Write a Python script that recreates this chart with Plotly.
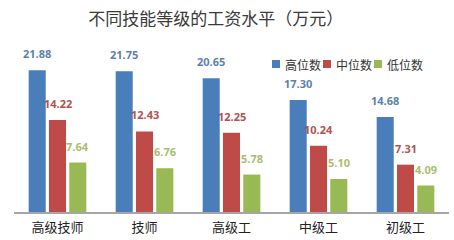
import plotly.graph_objects as go

categories = ["高级技师", "技师", "高级工", "中级工", "初级工"]
series_names = ["高位数", "中位数", "低位数"]
high = [21.88, 21.75, 20.65, 17.30, 14.68]
mid = [14.22, 12.43, 12.25, 10.24, 7.31]
low = [7.64, 6.76, 5.78, 5.10, 4.09]

bar_colors = ["#4A7EBB", "#BE4B48", "#98B954"]
label_colors = ["#5B82AE", "#B5524F", "#A7BE6E"]
series = [high, mid, low]

fig = go.Figure()
for name, vals, c in zip(series_names, series, bar_colors):
    fig.add_trace(go.Bar(x=categories, y=vals, name=name, marker_color=c,
                         marker_line_width=0, showlegend=False))

slot_px = 20.3
for i, (vals, lc) in enumerate(zip(series, label_colors)):
    for cat, v in zip(categories, vals):
        fig.add_annotation(x=cat, y=v, text="%.2f" % v, showarrow=False,
                           xshift=(i - 1) * slot_px, yshift=7, yanchor="bottom",
                           font=dict(size=11, color=lc, family="Noto Sans", weight="bold"))

# legend (drawn as swatches + labels in paper coordinates)
W, H = 454, 240
ml, mr, mt, mb = 14, 5, 30, 28
pw, ph = W - ml - mr, H - mt - mb
leg_x0, leg_y = 272, 64  # pixel position of first swatch
step = 51
for i, (name, c) in enumerate(zip(series_names, bar_colors)):
    sx = leg_x0 + i * step
    x0 = (sx - ml) / pw
    x1 = (sx + 8 - ml) / pw
    y0 = (H - mb - (leg_y + 4)) / ph
    y1 = (H - mb - (leg_y - 4)) / ph
    fig.add_shape(type="rect", xref="paper", yref="paper", x0=x0, x1=x1, y0=y0, y1=y1,
                  fillcolor=c, line_width=0)
    fig.add_annotation(xref="paper", yref="paper", x=(sx + 11 - ml) / pw,
                       y=(H - mb - leg_y) / ph, text=name, showarrow=False,
                       xanchor="left", yanchor="middle",
                       font=dict(size=12, color="#333333", family="Noto Sans CJK SC"))

fig.update_layout(
    width=W, height=H,
    margin=dict(l=ml, r=mr, t=mt, b=mb),
    paper_bgcolor="white", plot_bgcolor="white",
    barmode="group", bargap=0.3, bargroupgap=0.16,
    title=dict(text="不同技能等级的工资水平（万元）", x=0.475, xanchor="center",
               y=0.92, yanchor="middle",
               font=dict(size=17, color="#3A3A3A", family="Noto Sans CJK SC")),
    showlegend=False,
    font=dict(family="Noto Sans CJK SC"),
)
fig.update_xaxes(showline=True, linecolor="#A6A6A6", linewidth=1.5,
                 ticks="outside", ticklen=3, tickcolor="rgba(0,0,0,0)",
                 tickfont=dict(size=13, color="#222222", family="Noto Sans CJK SC"),
                 range=[-0.5, 4.5])
fig.update_yaxes(visible=False, range=[0, 28.1], showgrid=False)

fig.write_html("out.html")
